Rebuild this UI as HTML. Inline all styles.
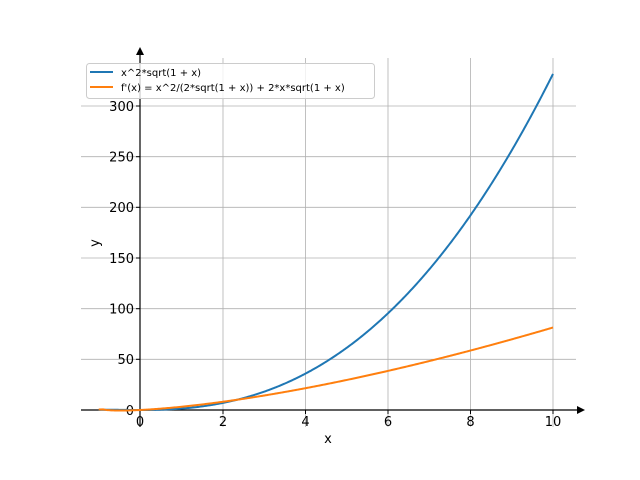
<!DOCTYPE html>
<html><head><meta charset="utf-8"><style>body{margin:0;background:#fff}svg{display:block}text{font-family:"DejaVu Sans","Liberation Sans",sans-serif}</style></head>
<body>
<svg id="s" width="640" height="480" viewBox="0 0 640 480" xmlns="http://www.w3.org/2000/svg">
<g stroke="#b0b0b0" stroke-width="0.8">
<line x1="223" y1="58" x2="223" y2="427"/><line x1="305.5" y1="58" x2="305.5" y2="427"/>
<line x1="388" y1="58" x2="388" y2="427"/><line x1="470.5" y1="58" x2="470.5" y2="427"/>
<line x1="553" y1="58" x2="553" y2="427"/>
<line x1="81" y1="359.3" x2="576" y2="359.3"/><line x1="81" y1="308.7" x2="576" y2="308.7"/>
<line x1="81" y1="258" x2="576" y2="258"/><line x1="81" y1="207.3" x2="576" y2="207.3"/>
<line x1="81" y1="156.7" x2="576" y2="156.7"/><line x1="81" y1="106" x2="576" y2="106"/>
</g>
<g stroke="#000" stroke-width="1.2">
<line x1="81" y1="410" x2="580" y2="410"/><line x1="140" y1="427" x2="140" y2="52"/>
</g>
<polygon points="585,410 577,406 577,414" fill="#000"/>
<polygon points="140,47 136,55 144,55" fill="#000"/>
<g stroke="#000" stroke-width="1">
<line x1="140" y1="410" x2="140" y2="414"/><line x1="223" y1="410" x2="223" y2="414"/><line x1="305.5" y1="410" x2="305.5" y2="414"/><line x1="388" y1="410" x2="388" y2="414"/><line x1="470.5" y1="410" x2="470.5" y2="414"/><line x1="553" y1="410" x2="553" y2="414"/>
<line x1="136" y1="359.3" x2="140" y2="359.3"/><line x1="136" y1="308.7" x2="140" y2="308.7"/><line x1="136" y1="258" x2="140" y2="258"/><line x1="136" y1="207.3" x2="140" y2="207.3"/><line x1="136" y1="156.7" x2="140" y2="156.7"/><line x1="136" y1="106" x2="140" y2="106"/>
</g>
<g font-size="13" fill="#000" text-anchor="middle">
<text x="140" y="426">0</text><text x="223" y="426">2</text><text x="305.5" y="426">4</text><text x="388" y="426">6</text><text x="470.5" y="426">8</text><text x="553" y="426">10</text>
<text x="328" y="443">x</text>
</g>
<g font-size="13" fill="#000" text-anchor="end">
<text x="134" y="415">0</text><text x="134" y="364">50</text><text x="134" y="313.5">100</text><text x="134" y="263">150</text><text x="134" y="212">200</text><text x="134" y="161.5">250</text><text x="134" y="111">300</text>
</g>
<text x="99" y="243" font-size="13" transform="rotate(-90 99 243)" text-anchor="middle">y</text>
<path id="p1" fill="none" stroke="#1f77b4" stroke-width="2"/>
<path id="p2" fill="none" stroke="#ff7f0e" stroke-width="2"/>
<rect x="86.5" y="63.5" width="288" height="35" rx="3" fill="#fff" fill-opacity="0.8" stroke="#ccc"/>
<line x1="90" y1="72" x2="113" y2="72" stroke="#1f77b4" stroke-width="2"/>
<line x1="90" y1="87" x2="113" y2="87" stroke="#ff7f0e" stroke-width="2"/>
<text x="121" y="76" font-size="10">x^2*sqrt(1 + x)</text>
<text x="121" y="91" font-size="10">f'(x) = x^2/(2*sqrt(1 + x)) + 2*x*sqrt(1 + x)</text>
</svg>
<script>
function X(x){return 140+41.3*x}function Y(y){return 410-1.01333*y}
var a="",b="M"+X(-1).toFixed(2)+","+Y(0.5).toFixed(2);
for(var i=0;i<=400;i++){var x=-1+11*i/400;var s=Math.sqrt(1+x);var f=x*x*s;
a+=(i?"L":"M")+X(x).toFixed(2)+","+Y(f).toFixed(2);
if(x>=-0.9){var g=x*x/(2*s)+2*x*s;b+="L"+X(x).toFixed(2)+","+Y(Math.max(g,-1)).toFixed(2);}}
document.getElementById("p1").setAttribute("d",a);document.getElementById("p2").setAttribute("d",b);
</script>
</body></html>
